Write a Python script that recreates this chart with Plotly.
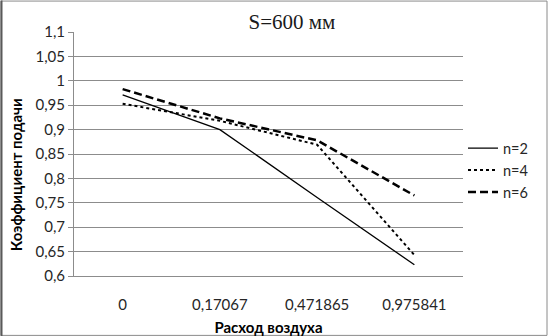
import plotly.graph_objects as go

# Air flow categories (x axis) and delivery coefficient for each n
categories = ["0", "0,17067", "0,471865", "0,975841"]
n2 = [0.971, 0.900, 0.761, 0.623]
n4 = [0.953, 0.918, 0.869, 0.643]
n6 = [0.983, 0.923, 0.878, 0.765]

y_ticks = [0.6, 0.65, 0.7, 0.75, 0.8, 0.85, 0.9, 0.95, 1.0, 1.05, 1.1]
y_tick_text = ["0,6", "0,65", "0,7", "0,75", "0,8", "0,85", "0,9", "0,95", "1", "1,05", "1,1"]

W, H = 548, 336
L, R, T, B = 74, 85, 31.5, 60
pw, ph = W - L - R, H - T - B

def px_x(x):
    return (x - L) / pw

def px_y(y):
    return (H - B - y) / ph

font_main = "Lato, 'Open Sans', sans-serif"
ink = "#262626"
grid = "#8c8c8c"

fig = go.Figure()
fig.add_trace(go.Scatter(x=categories, y=n2, name="n=2", mode="lines",
                         line=dict(color="black", width=1.3, dash="solid")))
fig.add_trace(go.Scatter(x=categories, y=n4, name="n=4", mode="lines",
                         line=dict(color="black", width=2, dash="dot")))
fig.add_trace(go.Scatter(x=categories, y=n6, name="n=6", mode="lines",
                         line=dict(color="black", width=2.5, dash="8px,4px")))

fig.update_layout(
    width=W, height=H,
    margin=dict(l=L, r=R, t=T, b=B, pad=0, autoexpand=False),
    paper_bgcolor="white", plot_bgcolor="white",
    font=dict(family=font_main, size=15, color=ink),
    title=dict(text="S=600 мм", xref="container", yref="container",
               x=292 / W, y=1 - 22 / H, xanchor="center", yanchor="middle",
               font=dict(family="'Liberation Serif', 'DejaVu Serif', serif",
                         size=21, color="#1a1a1a")),
    legend=dict(x=px_x(463), y=px_y(132), xanchor="left", yanchor="top",
                font=dict(size=14.5, color=ink), bgcolor="rgba(0,0,0,0)",
                tracegroupgap=0, itemwidth=30),
    showlegend=True,
)

fig.update_xaxes(
    type="category", range=[-0.5, 3.5], automargin=False,
    showgrid=False, showline=True, linecolor=grid, linewidth=1,
    ticks="", ticklabelstandoff=15,
    tickfont=dict(size=15, color=ink),
    title=dict(text="<b>Расход воздуха</b>", font=dict(size=15, color="black"),
               standoff=11),
)
fig.update_yaxes(
    range=[0.6, 1.1], tickvals=y_ticks, ticktext=y_tick_text, automargin=False,
    showgrid=True, gridcolor=grid, gridwidth=1,
    showline=True, linecolor=grid, linewidth=1,
    ticks="outside", ticklen=5, tickcolor=grid,
    tickfont=dict(size=15, color=ink),
    zeroline=False,
)

# Vertical axis title
fig.add_annotation(text="<b>Коэффициент подачи</b>", textangle=-90,
                   xref="paper", yref="paper", x=px_x(16), y=px_y(175),
                   xanchor="center", yanchor="middle", showarrow=False,
                   font=dict(size=15, color="black"))

# Chart frame
fig.add_shape(type="rect", xref="paper", yref="paper",
              x0=px_x(1), x1=px_x(547), y0=px_y(335.5), y1=px_y(0.5),
              line=dict(color="#8a8a8a", width=1), layer="below")
fig.add_shape(type="line", xref="paper", yref="paper",
              x0=px_x(1.5), x1=px_x(1.5), y0=px_y(336), y1=px_y(0),
              line=dict(color="#5a5a5a", width=2))

fig.write_html("out.html")
